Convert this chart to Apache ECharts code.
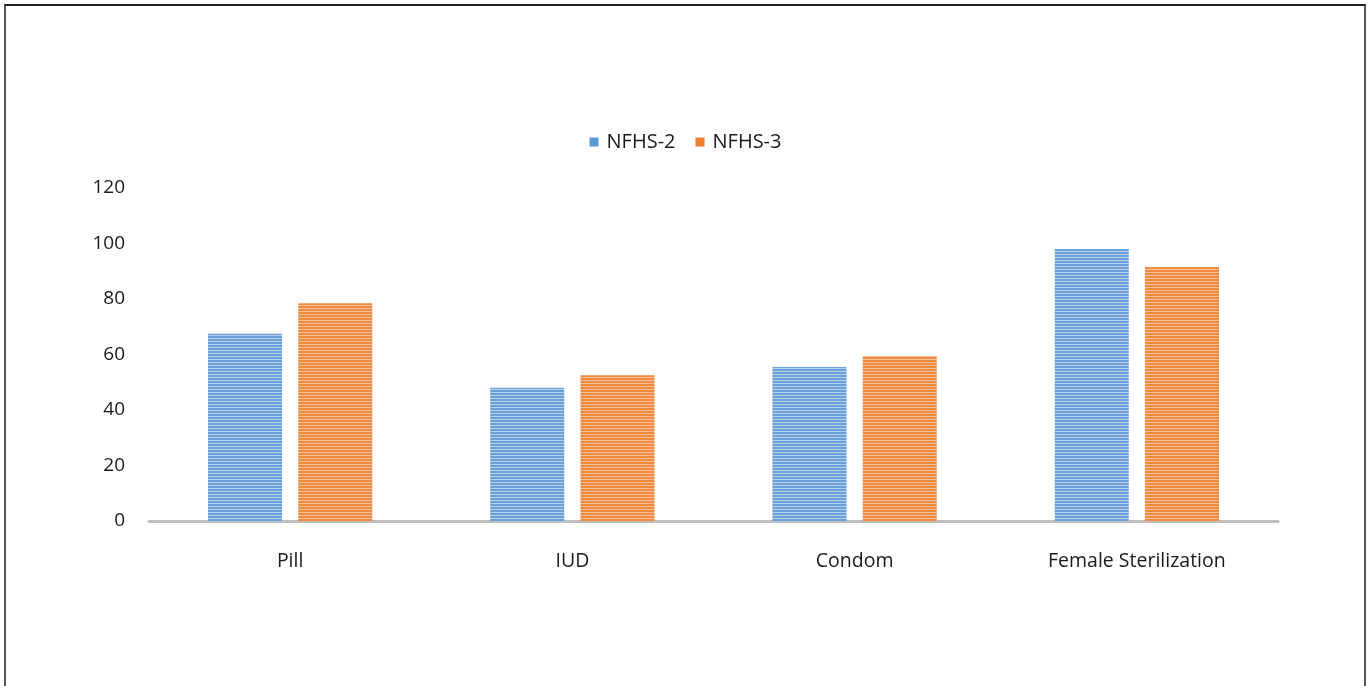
<!DOCTYPE html>
<html>
<head>
<meta charset="utf-8">
<script src="https://cdn.jsdelivr.net/npm/echarts@6/dist/echarts.min.js"></script>
<style>
  html, body { margin: 0; padding: 0; background: #fff; }
  #chart { width: 1371px; height: 686px; }
  #frame { position: absolute; left: 4px; top: 4px; width: 1358px; height: 700px;
           border-left: 2px solid #555; border-top: 2px solid #222; border-right: 2px solid #555; pointer-events: none; }
</style>
</head>
<body>
<div id="chart"></div>
<div id="frame"></div>
<script>
const categories = ['Pill', 'IUD', 'Condom', 'Female Sterilization'];
const seriesNames = ['NFHS-2', 'NFHS-3'];
const nfhs2 = [67.5, 48, 55.5, 98];
const nfhs3 = [78.5, 52.5, 59.5, 91.5];
const yTicks = [0, 20, 40, 60, 80, 100, 120];

function stripe(base, light) {
  const c = document.createElement('canvas');
  c.width = 4; c.height = 3;
  const g = c.getContext('2d');
  g.fillStyle = base; g.fillRect(0, 0, 4, 3);
  g.fillStyle = light; g.fillRect(0, 2, 4, 1);
  return { image: c, repeat: 'repeat' };
}

const chart = echarts.init(document.getElementById('chart'));
const font = 'Open Sans, Liberation Sans, sans-serif';
chart.setOption({
  animation: false,
  legend: {
    top: 127, left: 'center', itemWidth: 9, itemHeight: 9, itemGap: 20,
    icon: 'rect',
    textStyle: { fontFamily: font, fontSize: 20, color: '#1a1a1a', padding: [0, 0, 0, 3] },
    data: [
      { name: seriesNames[0], itemStyle: { color: '#5b9bd5' } },
      { name: seriesNames[1], itemStyle: { color: '#ed7d31' } }
    ]
  },
  grid: { left: 149, right: 93, top: 188, bottom: 165 },
  xAxis: {
    type: 'category', data: categories,
    axisLine: { lineStyle: { color: '#bfbfbf', width: 3 } },
    axisTick: { show: false },
    axisLabel: { fontFamily: font, fontSize: 19.5, color: '#1a1a1a', margin: 30 }
  },
  yAxis: {
    type: 'value', min: yTicks[0], max: yTicks[yTicks.length - 1], interval: 20,
    splitLine: { show: false },
    axisLine: { show: false }, axisTick: { show: false },
    axisLabel: { fontFamily: font, fontSize: 19, color: '#1a1a1a', margin: 24 }
  },
  series: [
    { name: seriesNames[0], type: 'bar', data: nfhs2, barWidth: 74, barGap: '22%',
      itemStyle: { color: stripe('#6a9fd8', '#b4d0ee') } },
    { name: seriesNames[1], type: 'bar', data: nfhs3, barWidth: 74,
      itemStyle: { color: stripe('#f08a40', '#f8c096') } }
  ]
});
</script>
</body>
</html>
